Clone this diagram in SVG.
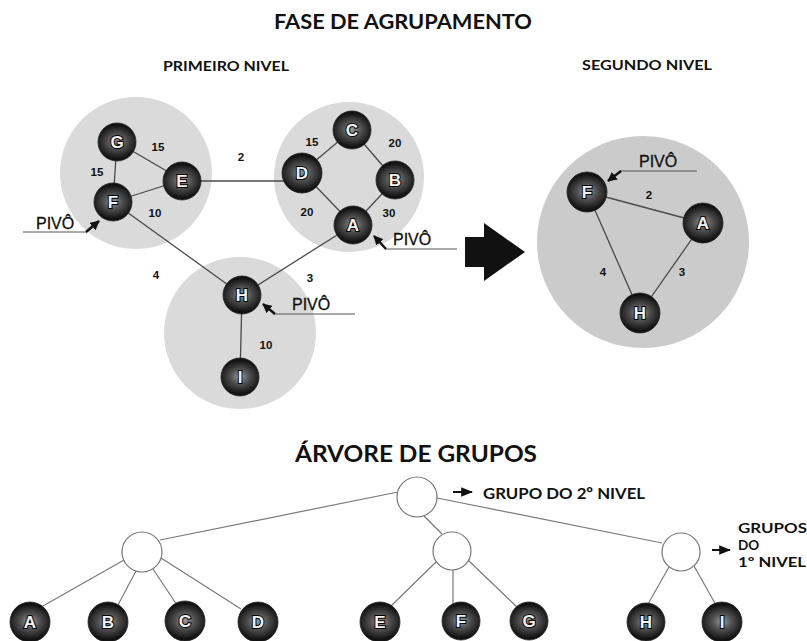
<svg xmlns="http://www.w3.org/2000/svg" width="807" height="641" viewBox="0 0 807 641">
<style>
.bg{fill:#ffffff}
.cluster{fill:#dadada}
.cluster2{fill:#cbcbcb}
.edge{stroke:#4a4a4a;stroke-width:1.3;fill:none}
.tedge{stroke:#7a7a7a;stroke-width:1.2;fill:none}
.pline{stroke:#555;stroke-width:1;fill:none}
.parrow{stroke:#111;stroke-width:2.4;fill:none}
.sphere{fill:url(#sph);stroke:#222;stroke-width:0.8}
.lbl{font-family:"Liberation Sans",Arial,sans-serif;font-weight:bold;font-size:17px;fill:#f2f2f2;stroke:#000;stroke-width:2;paint-order:stroke fill;text-anchor:middle}
.num{font-family:"Liberation Sans",Arial,sans-serif;font-weight:bold;font-size:11.5px;fill:#111}
.pivo{font-family:"Liberation Sans",Arial,sans-serif;font-size:16px;fill:#111;stroke:#111;stroke-width:0.3}
.title{font-family:Lato,"Liberation Sans",sans-serif;font-weight:bold;fill:#111}
.grp{fill:#ffffff;stroke:#777;stroke-width:1.2}
</style>
<defs>
<radialGradient id="sph" cx="50%" cy="50%" r="55%" fx="50%" fy="48%" gradientTransform="translate(0.5 0.5) scale(1 0.8) translate(-0.5 -0.5)">
<stop offset="0" stop-color="#9a9a9a"/>
<stop offset="0.45" stop-color="#505050"/>
<stop offset="1" stop-color="#121212"/>
</radialGradient>
<marker id="ah" viewBox="0 0 10 10" refX="9" refY="5" markerWidth="4" markerHeight="4" orient="auto">
<path d="M0,0 L10,5 L0,10 z" fill="#111"/>
</marker>
<marker id="ta" viewBox="0 0 10 10" refX="9" refY="5" markerWidth="6" markerHeight="6" orient="auto">
<path d="M0,1 L10,5 L0,9 z" fill="#111"/>
</marker>
</defs>
<rect class="bg" x="0" y="0" width="807" height="641"/>

<text class="title" x="403" y="29" font-size="20" text-anchor="middle" textLength="258" lengthAdjust="spacingAndGlyphs">FASE DE AGRUPAMENTO</text>
<text class="title" x="226" y="71" font-size="13" text-anchor="middle" textLength="126" lengthAdjust="spacingAndGlyphs">PRIMEIRO NIVEL</text>
<text class="title" x="647" y="70" font-size="13" text-anchor="middle" textLength="130" lengthAdjust="spacingAndGlyphs">SEGUNDO NIVEL</text>

<g id="clusters">
<circle class="cluster" cx="136" cy="173" r="76"/>
<circle class="cluster" cx="349" cy="177" r="75"/>
<circle class="cluster" cx="240" cy="333" r="76"/>
<circle class="cluster2" cx="643" cy="242" r="106"/>
</g>

<g id="connectors">
<line class="edge" x1="117" y1="142" x2="182" y2="180"/>
<line class="edge" x1="117" y1="142" x2="113" y2="202"/>
<line class="edge" x1="113" y1="202" x2="182" y2="180"/>
<line class="edge" x1="182" y1="181" x2="302" y2="181"/>
<line class="edge" x1="302" y1="172" x2="352" y2="130"/>
<line class="edge" x1="352" y1="130" x2="395" y2="180"/>
<line class="edge" x1="302" y1="172" x2="353" y2="225"/>
<line class="edge" x1="395" y1="180" x2="353" y2="225"/>
<line class="edge" x1="113" y1="202" x2="242" y2="295"/>
<line class="edge" x1="353" y1="225" x2="242" y2="295"/>
<line class="edge" x1="242" y1="295" x2="240" y2="377"/>
<line class="edge" x1="587" y1="192" x2="703" y2="223"/>
<line class="edge" x1="587" y1="192" x2="640" y2="313"/>
<line class="edge" x1="703" y1="223" x2="640" y2="313"/>
<line class="tedge" x1="398" y1="492" x2="160" y2="540"/>
<line class="tedge" x1="424" y1="516" x2="442" y2="534"/>
<line class="tedge" x1="437" y1="498" x2="662" y2="543"/>
<line class="tedge" x1="124" y1="560" x2="43" y2="606"/>
<line class="tedge" x1="136" y1="571" x2="118" y2="605"/>
<line class="tedge" x1="153" y1="569" x2="177" y2="605"/>
<line class="tedge" x1="161" y1="558" x2="241" y2="609"/>
<line class="tedge" x1="436" y1="562" x2="391" y2="606"/>
<line class="tedge" x1="453" y1="570" x2="453" y2="604"/>
<line class="tedge" x1="468" y1="560" x2="518" y2="608"/>
<line class="tedge" x1="669" y1="567" x2="648" y2="604"/>
<line class="tedge" x1="694" y1="566" x2="716" y2="605"/>
<polyline class="pline" points="23,232 87,232"/>
<line class="parrow" x1="86" y1="232" x2="99" y2="221" marker-end="url(#ah)"/>
<polyline class="pline" points="385,249 457,249"/>
<line class="parrow" x1="386" y1="249" x2="374" y2="236" marker-end="url(#ah)"/>
<polyline class="pline" points="274,314 355,314"/>
<line class="parrow" x1="275" y1="314" x2="263" y2="304" marker-end="url(#ah)"/>
<polyline class="pline" points="620,171 697,171"/>
<line class="parrow" x1="621" y1="171" x2="608" y2="181" marker-end="url(#ah)"/>
<line x1="453" y1="492" x2="472" y2="492" stroke="#111" stroke-width="2" marker-end="url(#ta)"/>
<line x1="712" y1="550" x2="730" y2="550" stroke="#111" stroke-width="2" marker-end="url(#ta)"/>
</g>

<g id="edge-labels">
<text class="num" x="158" y="151" text-anchor="middle">15</text>
<text class="num" x="97" y="176" text-anchor="middle">15</text>
<text class="num" x="155" y="217" text-anchor="middle">10</text>
<text class="num" x="241" y="161" text-anchor="middle">2</text>
<text class="num" x="312" y="146" text-anchor="middle">15</text>
<text class="num" x="395" y="147" text-anchor="middle">20</text>
<text class="num" x="307" y="216" text-anchor="middle">20</text>
<text class="num" x="389" y="217" text-anchor="middle">30</text>
<text class="num" x="156" y="279" text-anchor="middle">4</text>
<text class="num" x="310" y="282" text-anchor="middle">3</text>
<text class="num" x="266" y="349" text-anchor="middle">10</text>
<text class="num" x="649" y="199" text-anchor="middle">2</text>
<text class="num" x="603" y="276" text-anchor="middle">4</text>
<text class="num" x="682" y="276" text-anchor="middle">3</text>
</g>

<g id="pivo-labels">
<text class="pivo" x="36" y="229">PIVÔ</text>
<text class="pivo" x="393" y="245">PIVÔ</text>
<text class="pivo" x="292" y="310">PIVÔ</text>
<text class="pivo" x="639" y="167">PIVÔ</text>
</g>

<g id="level1-nodes">
<g id="n1-G"><circle class="sphere" cx="117" cy="142" r="19"/><text class="lbl" x="117" y="148">G</text></g>
<g id="n1-E"><circle class="sphere" cx="182" cy="181" r="19"/><text class="lbl" x="182" y="187">E</text></g>
<g id="n1-F"><circle class="sphere" cx="113" cy="202" r="19"/><text class="lbl" x="113" y="208">F</text></g>
<g id="n1-D"><circle class="sphere" cx="302" cy="173" r="20"/><text class="lbl" x="302" y="179">D</text></g>
<g id="n1-C"><circle class="sphere" cx="352" cy="130" r="19"/><text class="lbl" x="352" y="136">C</text></g>
<g id="n1-B"><circle class="sphere" cx="395" cy="180" r="19"/><text class="lbl" x="395" y="186">B</text></g>
<g id="n1-A"><circle class="sphere" cx="353" cy="225" r="19"/><text class="lbl" x="353" y="231">A</text></g>
<g id="n1-H"><circle class="sphere" cx="242" cy="295" r="19"/><text class="lbl" x="242" y="301">H</text></g>
<g id="n1-I"><circle class="sphere" cx="240" cy="377" r="19"/><text class="lbl" x="240" y="383">I</text></g>
</g>

<g id="level2-nodes">
<g id="n2-F"><circle class="sphere" cx="587" cy="192" r="20"/><text class="lbl" x="587" y="198">F</text></g>
<g id="n2-A"><circle class="sphere" cx="703" cy="223" r="20"/><text class="lbl" x="703" y="229">A</text></g>
<g id="n2-H"><circle class="sphere" cx="640" cy="313" r="20"/><text class="lbl" x="640" y="319">H</text></g>
</g>

<g id="big-arrow">
<polygon points="465,237 484,237 484,223 525,252 484,281 484,267 465,267" fill="#111"/>
</g>

<text class="title" x="416" y="462" font-size="22" text-anchor="middle" textLength="242" lengthAdjust="spacingAndGlyphs">ÁRVORE DE GRUPOS</text>

<g id="tree-root"><circle class="grp" cx="417" cy="497" r="20"/></g>
<g id="tree-group-1"><circle class="grp" cx="142" cy="552" r="20"/></g>
<g id="tree-group-2"><circle class="grp" cx="452" cy="551" r="19"/></g>
<g id="tree-group-3"><circle class="grp" cx="681" cy="552" r="19"/></g>

<g id="tree-leaves">
<g id="t-A"><circle class="sphere" cx="30" cy="622" r="20"/><text class="lbl" x="30" y="628">A</text></g>
<g id="t-B"><circle class="sphere" cx="108" cy="622" r="20"/><text class="lbl" x="108" y="628">B</text></g>
<g id="t-C"><circle class="sphere" cx="185" cy="621" r="20"/><text class="lbl" x="185" y="627">C</text></g>
<g id="t-D"><circle class="sphere" cx="258" cy="622" r="20"/><text class="lbl" x="258" y="628">D</text></g>
<g id="t-E"><circle class="sphere" cx="380" cy="622" r="20"/><text class="lbl" x="380" y="628">E</text></g>
<g id="t-F"><circle class="sphere" cx="461" cy="621" r="19"/><text class="lbl" x="461" y="627">F</text></g>
<g id="t-G"><circle class="sphere" cx="529" cy="621" r="19"/><text class="lbl" x="529" y="627">G</text></g>
<g id="t-H"><circle class="sphere" cx="646" cy="622" r="19"/><text class="lbl" x="646" y="628">H</text></g>
<g id="t-I"><circle class="sphere" cx="722" cy="622" r="20"/><text class="lbl" x="722" y="628">I</text></g>
</g>

<g id="tree-labels">
<text class="title" x="483" y="499" font-size="16" textLength="162" lengthAdjust="spacingAndGlyphs">GRUPO DO 2º NIVEL</text>
<text class="title" x="738" y="533" font-size="13.5" textLength="69" lengthAdjust="spacingAndGlyphs">GRUPOS</text>
<text class="title" x="738" y="550" font-size="13.5">DO</text>
<text class="title" x="738" y="567" font-size="13.5" textLength="68" lengthAdjust="spacingAndGlyphs">1º NIVEL</text>
</g>
</svg>
